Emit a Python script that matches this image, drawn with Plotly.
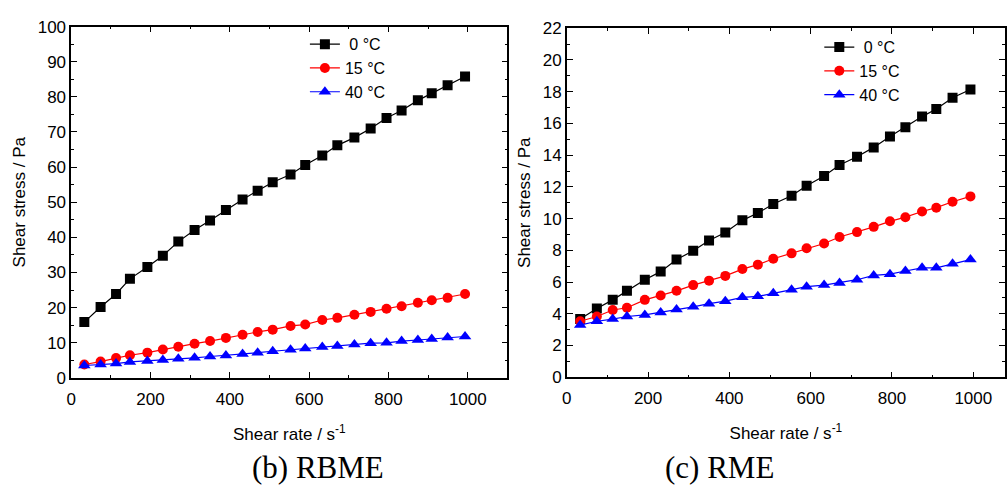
import plotly.graph_objects as go

# ---------------- data ----------------
shear_rate = [33, 74, 113, 148, 192, 231, 270, 311, 350, 390, 432, 470, 508,
              553, 590, 633, 671, 714, 755, 795, 833, 874, 909, 949, 993]

series_names = [" 0 \u00b0C", "15 \u00b0C", "40 \u00b0C"]

# (b) RBME
rbme_0 = [15.9, 20.2, 23.9, 28.2, 31.6, 34.8, 38.8, 42.1, 44.8, 47.8, 50.8, 53.3, 55.7,
          57.9, 60.6, 63.3, 66.2, 68.4, 71.0, 74.0, 76.1, 79.0, 81.0, 83.3, 85.8]
rbme_15 = [3.83, 4.65, 5.65, 6.47, 7.2, 8.1, 8.9, 9.75, 10.5, 11.4, 12.3, 13.1, 13.75,
           14.8, 15.2, 16.5, 17.1, 18.0, 18.8, 19.7, 20.4, 21.4, 22.1, 22.8, 23.9]
rbme_40 = [3.55, 3.83, 4.1, 4.56, 4.83, 5.1, 5.47, 5.74, 6.1, 6.4, 6.8, 7.2, 7.6,
           8.0, 8.4, 8.8, 9.1, 9.5, 9.9, 10.0, 10.5, 10.8, 11.1, 11.5, 11.8]

# (c) RME
rme_0 = [3.67, 4.34, 4.88, 5.45, 6.15, 6.66, 7.42, 7.97, 8.62, 9.12, 9.89, 10.35, 10.92,
         11.44, 12.07, 12.69, 13.38, 13.9, 14.49, 15.17, 15.76, 16.43, 16.91, 17.62, 18.14]
rme_15 = [3.53, 3.83, 4.24, 4.38, 4.88, 5.15, 5.45, 5.81, 6.09, 6.39, 6.82, 7.10, 7.47,
          7.81, 8.13, 8.43, 8.84, 9.15, 9.48, 9.83, 10.09, 10.45, 10.69, 11.06, 11.40]
rme_40 = [3.29, 3.53, 3.67, 3.83, 3.93, 4.09, 4.27, 4.44, 4.64, 4.80, 5.04, 5.10, 5.29,
          5.51, 5.71, 5.81, 5.95, 6.15, 6.42, 6.50, 6.70, 6.90, 6.90, 7.16, 7.42]

x_title = "Shear rate / s<sup>-1</sup>"
y_title = "Shear stress / Pa"
captions = ["(b) RBME", "(c) RME"]

colors = ["#000000", "#FF0000", "#0000FF"]
symbols = ["square", "circle", "triangle-up"]

FONT = "Liberation Sans, Arial, sans-serif"

fig = go.Figure()

panels = [
    ([rbme_0, rbme_15, rbme_40], "x", "y", "legend"),
    ([rme_0, rme_15, rme_40], "x2", "y2", "legend2"),
]
for vals, xa, ya, lg in panels:
    for name, v, c, s in zip(series_names, vals, colors, symbols):
        fig.add_trace(go.Scatter(
            x=shear_rate, y=v, name=name, mode="lines+markers",
            line=dict(color=c, width=1.2),
            marker=dict(symbol=s, color=c, size=10 if s != "triangle-up" else 11,
                        line=dict(width=0)),
            xaxis=xa, yaxis=ya, legend=lg,
        ))

W, H = 1007, 485

def px_x(p):
    return p / W

def px_y(p):
    return (H - p) / H

axis_common = dict(
    showline=True, linecolor="black", linewidth=1.5, mirror="ticks",
    ticks="inside", ticklen=6, tickwidth=1.2, tickcolor="black",
    showgrid=False, zeroline=False,
    tickfont=dict(family=FONT, size=17, color="black"),
    title_font=dict(family=FONT, size=17, color="black"),
)

fig.update_layout(
    width=W, height=H,
    margin=dict(l=0, r=0, t=0, b=0),
    paper_bgcolor="white", plot_bgcolor="white",
    xaxis=dict(domain=[px_x(66.7), px_x(506)], range=[0, 1100], anchor="y",
               dtick=200, tick0=0, ticklabelstandoff=5,
               minor=dict(ticks="inside", ticklen=3, dtick=100, tick0=0, tickcolor="black"),
               title=dict(text=x_title, standoff=20), **axis_common),
    yaxis=dict(domain=[px_y(384), px_y(18.3)], range=[0, 100], anchor="x",
               dtick=10, tick0=0,
               minor=dict(ticks="inside", ticklen=3, dtick=5, tick0=0, tickcolor="black"),
               title=dict(text=y_title, standoff=8), **axis_common),
    xaxis2=dict(domain=[px_x(565.7), 1.0], range=[0, 1078], anchor="y2",
                dtick=200, tick0=0, ticklabelstandoff=5,
                minor=dict(ticks="inside", ticklen=3, dtick=100, tick0=0, tickcolor="black"),
                title=dict(text=x_title, standoff=20), **axis_common),
    yaxis2=dict(domain=[px_y(383.3), px_y(20)], range=[0, 22], anchor="x2",
                dtick=2, tick0=0,
                minor=dict(ticks="inside", ticklen=3, dtick=1, tick0=0, tickcolor="black"),
                title=dict(text=y_title, standoff=8), **axis_common),
    legend=dict(x=px_x(302), y=px_y(19), xanchor="left", yanchor="top",
                bgcolor="rgba(0,0,0,0)", tracegroupgap=0,
                font=dict(family=FONT, size=16, color="black")),
    legend2=dict(x=px_x(820), y=px_y(22), xanchor="left", yanchor="top",
                 bgcolor="rgba(0,0,0,0)", tracegroupgap=0,
                 font=dict(family=FONT, size=16, color="black")),
    showlegend=True,
)

caption_x = [315, 720]
for cap, cx in zip(captions, caption_x):
    fig.add_annotation(
        text=cap, x=px_x(cx), y=px_y(477), xref="paper", yref="paper",
        xanchor="center", yanchor="middle", showarrow=False,
        font=dict(family="Liberation Serif, Times New Roman, serif", size=31, color="black"),
    )

fig.write_html("out.html")
